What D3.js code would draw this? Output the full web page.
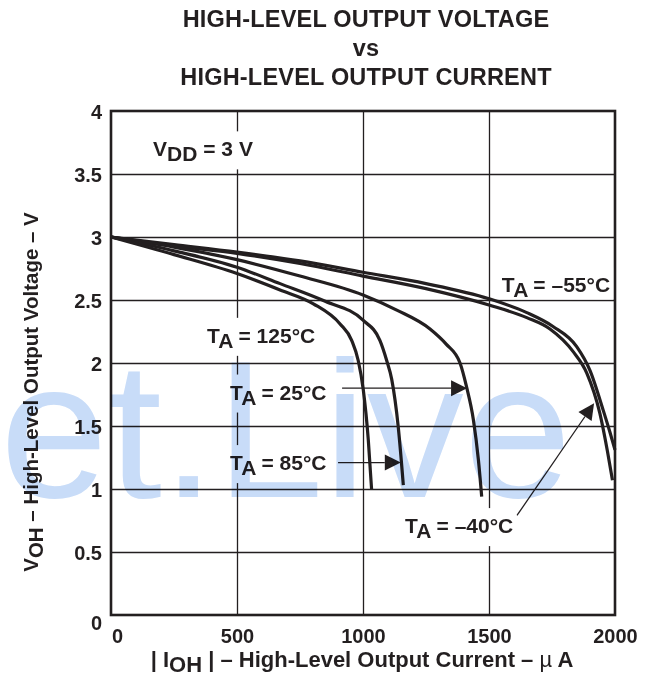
<!DOCTYPE html>
<html><head><meta charset="utf-8">
<script src="https://cdn.jsdelivr.net/npm/d3@7"></script>
<style>
body{margin:0;background:#fff}
text{font-family:"Liberation Sans",Arial,Helvetica,sans-serif;fill:#231f20}
</style>
</head><body>
<svg id="c" width="650" height="687"></svg>
<script>
// ---- data ----
const xTicks = [0, 500, 1000, 1500, 2000];
const xTickLabels = ["0", "500", "1000", "1500", "2000"];
const yTicks = [0, 0.5, 1, 1.5, 2, 2.5, 3, 3.5, 4];
const yTickLabels = ["0", "0.5", "1", "1.5", "2", "2.5", "3", "3.5", "4"];

const curveM55 = [[0,3.0],[250,2.94],[500,2.88],[750,2.81],[1000,2.72],[1250,2.63],[1500,2.51],[1650,2.40],[1754,2.29],[1848,2.13],[1901,1.94],[1954,1.62],[1980,1.45],[2000,1.31]];
const curveM40 = [[0,3.0],[250,2.93],[500,2.87],[750,2.79],[1000,2.69],[1250,2.59],[1500,2.46],[1650,2.36],[1742,2.27],[1834,2.09],[1888,1.92],[1940,1.60],[1970,1.30],[1990,1.07]];
const curve25 = [[0,3.0],[250,2.92],[500,2.82],[750,2.69],[1000,2.54],[1134,2.42],[1266,2.27],[1330,2.15],[1385,2.0],[1411,1.81],[1438,1.55],[1458,1.23],[1471,0.94]];
const curve85 = [[0,3.0],[250,2.89],[500,2.76],[671,2.63],[850,2.49],[1000,2.34],[1067,2.18],[1094,2.02],[1114,1.87],[1140,1.49],[1160,1.03]];
const curve125 = [[0,3.0],[250,2.86],[500,2.71],[671,2.58],[803,2.47],[909,2.31],[955,2.18],[981,2.02],[1001,1.79],[1021,1.39],[1034,1.0]];
const seriesList = [curveM55, curveM40, curve25, curve85, curve125];

// annotation labels: [main, subscript, rest, x, y (data units)]
const labelTexts = [
  ["V", "DD", " = 3 V", 167, 3.64],
  ["T", "A", " = 125°C", 381, 2.16],
  ["T", "A", " = 25°C", 472, 1.71],
  ["T", "A", " = 85°C", 472, 1.15],
  ["T", "A", " = –55°C", 1551, 2.56],
  ["T", "A", " = –40°C", 1167, 0.65]
];
// arrows: [x1, y1, x2 (tip), y2 (tip)] in data units
const arrows = [
  [917, 1.80, 1413, 1.80],
  [901, 1.21, 1150, 1.21],
  [1611, 0.79, 1917, 1.68]
];
const titleLines = ["HIGH-LEVEL OUTPUT VOLTAGE", "vs", "HIGH-LEVEL OUTPUT CURRENT"];

// ---- chart ----
const svg = d3.select("#c");
const L = 111, R = 615, T = 111, B = 615;
const x = d3.scaleLinear().domain([0, 2000]).range([L, R]);
const y = d3.scaleLinear().domain([0, 4]).range([B, T]);
const ink = "#231f20";
const FF = '"Liberation Sans",Arial,Helvetica,sans-serif';

// grid
svg.append("g").attr("transform", `translate(0,${B})`)
  .call(d3.axisBottom(x).tickValues(xTicks.slice(1, -1)).tickSize(-(B - T)).tickFormat(""))
  .call(g => g.select(".domain").remove())
  .call(g => g.selectAll("line").attr("stroke", ink).attr("stroke-width", 1.3));
svg.append("g").attr("transform", `translate(${L},0)`)
  .call(d3.axisLeft(y).tickValues(yTicks.slice(1, -1)).tickSize(-(R - L)).tickFormat(""))
  .call(g => g.select(".domain").remove())
  .call(g => g.selectAll("line").attr("stroke", ink).attr("stroke-width", 1.3));

// label white boxes (hide grid under labels)
const labG = svg.append("g");
const bgG = labG.append("g");
const txG = labG.append("g");
labelTexts.forEach(d => {
  const t = txG.append("text").attr("x", x(d[3])).attr("y", y(d[4]))
    .style("font-size", "21px").style("font-weight", "bold");
  t.append("tspan").text(d[0]);
  t.append("tspan").attr("dy", 5).text(d[1]);
  t.append("tspan").attr("dy", -5).text(d[2]);
  const bb = t.node().getBBox();
  bgG.append("rect").attr("x", bb.x - 3).attr("y", bb.y - 6).attr("width", bb.width + 6)
    .attr("height", bb.height + (d[2].includes("55") ? 4 : 10)).attr("fill", "#fff");
});

// border
svg.append("rect").attr("x", L).attr("y", T).attr("width", R - L).attr("height", B - T)
  .attr("fill", "none").attr("stroke", ink).attr("stroke-width", 2.6);

// curves
const line = d3.line().x(d => x(d[0])).y(d => y(d[1])).curve(d3.curveMonotoneX);
svg.append("g").selectAll("path").data(seriesList).join("path")
  .attr("d", line).attr("fill", "none").attr("stroke", ink).attr("stroke-width", 3.2)
  .attr("stroke-linejoin", "round");

// arrows
const ag = svg.append("g");
arrows.forEach(a => {
  const x1 = x(a[0]), y1 = y(a[1]), x2 = x(a[2]), y2 = y(a[3]);
  const ang = Math.atan2(y2 - y1, x2 - x1);
  const len = 16, hw = 8;
  const bx = x2 - len * Math.cos(ang), by = y2 - len * Math.sin(ang);
  ag.append("line").attr("x1", x1).attr("y1", y1).attr("x2", bx).attr("y2", by)
    .attr("stroke", ink).attr("stroke-width", 1.3);
  const px = -Math.sin(ang) * hw, py = Math.cos(ang) * hw;
  ag.append("path").attr("d", `M${x2},${y2}L${bx + px},${by + py}L${bx - px},${by - py}Z`).attr("fill", ink);
});
labG.raise();

// tick labels
svg.append("g").attr("transform", `translate(0,${B})`)
  .call(d3.axisBottom(x).tickValues(xTicks).tickFormat((d, i) => xTickLabels[i]).tickSize(0).tickPadding(14))
  .call(g => g.select(".domain").remove())
  .call(g => g.selectAll("text").attr("fill", ink)
    .style("font-family", FF).style("font-weight", "bold").style("font-size", "20px")
    .attr("dx", (d, i) => i === 0 ? 6 : 0));
svg.append("g").attr("transform", `translate(${L},0)`)
  .call(d3.axisLeft(y).tickValues(yTicks).tickFormat((d, i) => yTickLabels[i]).tickSize(0).tickPadding(9))
  .call(g => g.select(".domain").remove())
  .call(g => g.selectAll("text").attr("fill", ink)
    .style("font-family", FF).style("font-weight", "bold").style("font-size", "20px")
    .attr("dy", (d, i) => i === 0 ? "0.7em" : "0.35em"));

// title
svg.append("g").selectAll("text").data(titleLines).join("text")
  .attr("x", 366).attr("y", (d, i) => 27 + i * 29).attr("text-anchor", "middle")
  .style("font-size", "23.5px").style("font-weight", "bold").style("letter-spacing", "0.2px").text(d => d);

// x axis title
const xt = svg.append("text").attr("x", 362).attr("y", 667).attr("text-anchor", "middle")
  .style("font-size", "22px").style("font-weight", "bold");
xt.append("tspan").text("| I");
xt.append("tspan").attr("dy", 5).text("OH");
xt.append("tspan").attr("dy", -5).text(" | – High-Level Output Current – ");
xt.append("tspan").style("font-weight", "normal").text("µ");
xt.append("tspan").text(" A");

// y axis title
const yt = svg.append("text").attr("transform", "translate(38,392) rotate(-90)").attr("text-anchor", "middle")
  .style("font-size", "20.5px").style("font-weight", "bold");
yt.append("tspan").text("V");
yt.append("tspan").attr("dy", 5).text("OH");
yt.append("tspan").attr("dy", -5).text(" – High-Level Output Voltage – V");

// watermark
svg.append("text").attr("x", 0).attr("y", 497)
  .style("font-size", "194px").style("font-weight", "normal")
  .style("fill", "#c8dcf8").style("mix-blend-mode", "multiply")
  .text("et.Live");
</script>
</body></html>
